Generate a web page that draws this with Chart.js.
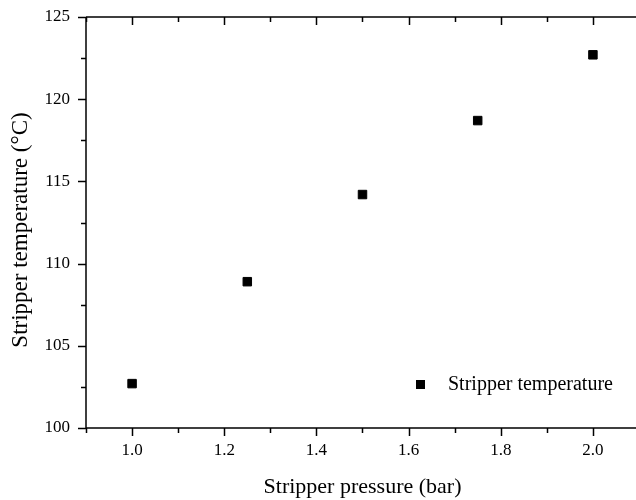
<!DOCTYPE html>
<html lang="en">

<head>
    <meta charset="UTF-8">
    <title>Stripper temperature</title>
    <script src="https://cdn.jsdelivr.net/npm/chart.js"></script>
    <style>
        html, body { margin: 0; padding: 0; background: #fff; overflow: hidden; }
        #wrap { width: 646px; height: 500px; position: relative; }
    </style>
</head>

<body>
    <div id="wrap"><canvas id="stripperChart"></canvas></div>

    <script>
        // data
        const pressure = [1.0, 1.25, 1.5, 1.75, 2.0];
        const temperature = [102.7, 108.9, 114.2, 118.7, 122.7];
        const xTicks = [1.0, 1.2, 1.4, 1.6, 1.8, 2.0];
        const xMinor = [0.9, 1.1, 1.3, 1.5, 1.7, 1.9, 2.1];
        const yTicks = [100, 105, 110, 115, 120, 125];
        const yMinor = [102.5, 107.5, 112.5, 117.5, 122.5];

        const serif = "'Liberation Serif', 'Times New Roman', serif";

        // axis lines, tick marks, titles and legend
        const frame = {
            id: 'frame',
            afterDraw(chart) {
                const { ctx, chartArea: a, scales: { x, y } } = chart;
                ctx.save();
                ctx.strokeStyle = '#000';
                ctx.lineWidth = 1.5;
                ctx.beginPath();
                ctx.moveTo(a.left, a.top); ctx.lineTo(a.left, a.bottom);
                ctx.moveTo(a.left, a.bottom); ctx.lineTo(a.right, a.bottom);
                ctx.moveTo(a.left, a.top); ctx.lineTo(a.right, a.top);

                xTicks.forEach(v => {
                    const px = Math.round(x.getPixelForValue(v)) + 0.5;
                    ctx.moveTo(px, a.bottom); ctx.lineTo(px, a.bottom + 8);
                    ctx.moveTo(px, a.top); ctx.lineTo(px, a.top + 8);
                });
                xMinor.forEach(v => {
                    const px = Math.round(x.getPixelForValue(v)) + 0.5;
                    ctx.moveTo(px, a.bottom); ctx.lineTo(px, a.bottom + 5);
                    ctx.moveTo(px, a.top); ctx.lineTo(px, a.top + 5);
                });
                yTicks.forEach(v => {
                    const py = Math.round(y.getPixelForValue(v)) + 0.5;
                    ctx.moveTo(a.left, py); ctx.lineTo(a.left - 8, py);
                });
                yMinor.forEach(v => {
                    const py = Math.round(y.getPixelForValue(v)) + 0.5;
                    ctx.moveTo(a.left, py); ctx.lineTo(a.left - 5, py);
                });
                ctx.stroke();

                // axis titles
                ctx.fillStyle = '#000';
                ctx.font = '22px ' + serif;
                ctx.textAlign = 'center';
                ctx.textBaseline = 'middle';
                ctx.fillText('Stripper pressure (bar)', (a.left + a.right) / 2, 487);
                ctx.save();
                ctx.translate(21, 230);
                ctx.rotate(-Math.PI / 2);
                ctx.font = '23px ' + serif;
                ctx.fillText('Stripper temperature (\u00B0C)', 0, 0);
                ctx.restore();

                // legend
                ctx.fillRect(416, 380, 9, 9);
                ctx.font = '20px ' + serif;
                ctx.textAlign = 'left';
                ctx.fillText('Stripper temperature', 448, 385);
                ctx.restore();
            }
        };

        const ctx = document.getElementById('stripperChart').getContext('2d');
        new Chart(ctx, {
            type: 'scatter',
            data: {
                datasets: [{
                    label: 'Stripper temperature',
                    data: pressure.map((p, i) => ({ x: p, y: temperature[i] })),
                    pointStyle: 'rect',
                    pointRadius: 6,
                    backgroundColor: '#000',
                    borderColor: '#000',
                    borderWidth: 1
                }]
            },
            options: {
                responsive: true,
                maintainAspectRatio: false,
                animation: false,
                layout: { padding: { top: 17, right: 0, left: 0, bottom: 0 } },
                plugins: {
                    legend: { display: false },
                    tooltip: { enabled: false }
                },
                scales: {
                    x: {
                        type: 'linear',
                        min: 0.9,
                        max: 2.1,
                        grid: { display: false },
                        border: { display: false },
                        afterBuildTicks: s => { s.ticks = xTicks.map(v => ({ value: v })); },
                        afterFit: s => { s.height = 72; s.paddingLeft = 0; s.paddingRight = 0; },
                        ticks: {
                            padding: 4,
                            color: '#000',
                            font: { family: serif, size: 17 },
                            callback: v => v.toFixed(1)
                        }
                    },
                    y: {
                        min: 100,
                        max: 125,
                        grid: { display: false },
                        border: { display: false },
                        afterBuildTicks: s => { s.ticks = yTicks.map(v => ({ value: v })); },
                        afterFit: s => { s.width = 86; s.paddingTop = 0; s.paddingBottom = 0; },
                        ticks: {
                            padding: 8,
                            color: '#000',
                            font: { family: serif, size: 17 }
                        }
                    }
                }
            },
            plugins: [frame]
        });
    </script>

</body>

</html>
